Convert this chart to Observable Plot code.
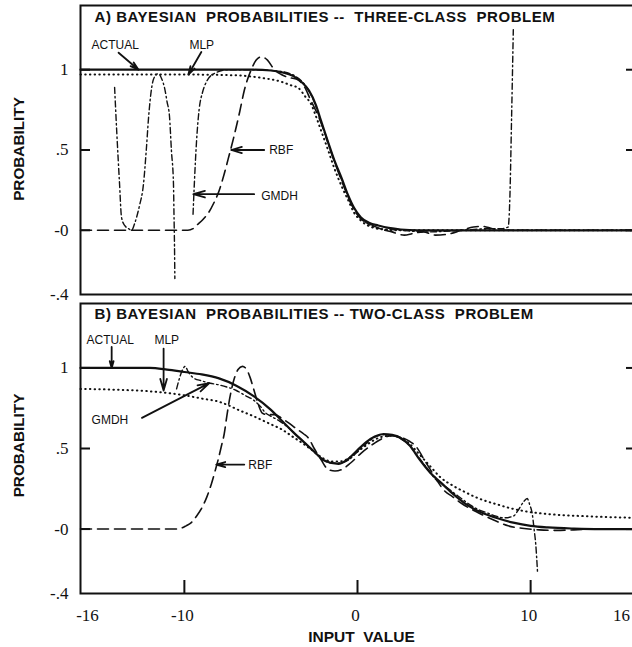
<!DOCTYPE html>
<html><head><meta charset="utf-8">
<script src="https://cdn.jsdelivr.net/npm/d3@7"></script>
<script src="https://cdn.jsdelivr.net/npm/@observablehq/plot@0.6"></script>
<style>body{margin:0;background:#fff;} #chart svg{display:block;} #chart svg + svg{margin-top:-4px;} #chart g[font-size="15"] text{letter-spacing:0.55px;}</style>
</head><body><div id="chart"></div>
<script>
// ---- Axis ticks ----
const yTickValues = [1, 0.5, 0, -0.4];
const yTickLabels = ["1", ".5", "-0", "-.4"];
const yInnerTicks = [1, 0.5, 0];
const xTickValues = [-16, -10, 0, 10, 16];
const xTickLabels = ["-16", "-10", "0", "10", "16"];
const xInnerTicks = [-10, 0, 10];

const titleA = "A) BAYESIAN  PROBABILITIES --  THREE-CLASS  PROBLEM";
const titleB = "B) BAYESIAN  PROBABILITIES -- TWO-CLASS  PROBLEM";

// ---- Panel A: three-class problem ----
const aActual = [[-16,1],[-8,1],[-6,1],[-5,0.995],[-4.4,0.985],[-3.7,0.96],[-3.2,0.92],[-2.8,0.87],[-2.4,0.78],[-2.1,0.68],[-1.7,0.55],[-1.35,0.44],[-0.9,0.32],[-0.55,0.22],[-0.2,0.14],[0.2,0.08],[0.7,0.045],[1.2,0.03],[1.8,0.015],[2.5,0.005],[3.5,0],[16,0]];
const aMLP = [[-16,0.97],[-10,0.97],[-7,0.965],[-5.6,0.95],[-4.4,0.925],[-3.9,0.905],[-3.4,0.885],[-3,0.83],[-2.7,0.79],[-2.4,0.71],[-2.1,0.62],[-1.7,0.5],[-1.35,0.39],[-0.9,0.27],[-0.55,0.19],[-0.2,0.11],[0.2,0.06],[0.8,0.02],[1.5,0.005],[2.5,0],[16,0]];
const aRBF = [[-16,0],[-9.8,0],[-9.5,0.01],[-9.3,0.03],[-8.9,0.07],[-8.6,0.11],[-8.3,0.17],[-8.05,0.23],[-7.7,0.35],[-7.48,0.44],[-7.1,0.6],[-6.8,0.74],[-6.53,0.875],[-6.14,1.0],[-5.85,1.06],[-5.56,1.08],[-5.2,1.06],[-4.8,1.0],[-4.4,0.97],[-3.9,0.95],[-3.5,0.94],[-3.1,0.9],[-2.7,0.81],[-2.3,0.72],[-1.9,0.61],[-1.5,0.48],[-1.1,0.36],[-0.7,0.25],[-0.3,0.15],[0.2,0.07],[0.7,0.04],[1.3,0.01],[2,-0.01],[2.7,-0.03],[3.2,-0.02],[3.8,-0.01],[4.5,-0.03],[5.2,-0.025],[6,0],[6.7,0.02],[7.2,0.025],[7.8,0.01],[8.5,0],[16,0]];
const aGMDH = [[-14.03,0.89],[-13.9,0.6],[-13.75,0.3],[-13.63,0.08],[-13.45,0.03],[-13.22,0.01],[-13.05,0.0],[-12.85,0.05],[-12.6,0.15],[-12.36,0.29],[-12.2,0.5],[-12.07,0.7],[-11.9,0.88],[-11.75,0.95],[-11.5,0.975],[-11.3,0.94],[-11.15,0.89],[-11.0,0.8],[-10.86,0.71],[-10.75,0.5],[-10.63,0.29],[-10.6,0.1],[-10.57,-0.1],[-10.55,-0.3],
  [NaN,NaN],
  [-9.5,0.1],[-9.42,0.3],[-9.3,0.55],[-9.15,0.75],[-8.95,0.86],[-8.7,0.93],[-8.3,0.975],[-7.5,1.0],[-6,1.0],[-4.5,0.99],[-3.6,0.96],[-3,0.9],[-2.5,0.8],[-2.1,0.67],[-1.7,0.54],[-1.3,0.42],[-0.9,0.31],[-0.5,0.2],[0,0.1],[0.6,0.04],[1.3,0.01],[2.5,0],[4,-0.01],[6,0],[7.5,0.01],[8.3,0.01],[8.7,0.02],[8.8,0.2],[8.9,0.7],[9.0,1.25]];
const aNotes = [
  {label:"ACTUAL", x:-15.36, y:1.15},
  {label:"MLP", x:-9.71, y:1.15},
  {label:"RBF", x:-5.1, y:0.5},
  {label:"GMDH", x:-5.56, y:0.21}
];
const aArrows = [
  {x1:-13.8, y1:1.106, x2:-12.65, y2:1.0},
  {x1:-9.02, y1:1.11, x2:-9.77, y2:0.97},
  {x1:-5.39, y1:0.5, x2:-7.29, y2:0.5},
  {x1:-5.97, y1:0.225, x2:-9.48, y2:0.225}
];

// ---- Panel B: two-class problem ----
const bActual = [[-16,1],[-12,1],[-11,0.99],[-10,0.975],[-9,0.96],[-8,0.935],[-7,0.89],[-6,0.825],[-5,0.74],[-4.4,0.675],[-3.7,0.6],[-3,0.53],[-2.5,0.48],[-2,0.43],[-1.5,0.41],[-1.1,0.405],[-0.6,0.43],[0,0.49],[0.5,0.54],[1,0.575],[1.5,0.59],[2,0.585],[2.5,0.565],[3,0.52],[3.6,0.43],[4.2,0.35],[4.8,0.29],[5.5,0.22],[6.2,0.16],[7,0.11],[8,0.07],[9,0.04],[10,0.02],[11,0.01],[12.5,0.003],[14,0],[16,0]];
const bMLP = [[-16,0.87],[-14,0.865],[-12,0.855],[-11,0.845],[-10,0.83],[-9,0.81],[-8,0.79],[-7.5,0.77],[-7,0.745],[-6,0.7],[-5,0.65],[-4.4,0.62],[-3.7,0.57],[-3,0.52],[-2.5,0.48],[-2,0.44],[-1.5,0.42],[-1,0.42],[-0.5,0.44],[0,0.48],[0.5,0.52],[1,0.555],[1.5,0.575],[2,0.58],[2.5,0.565],[3,0.53],[3.6,0.46],[4.2,0.39],[4.8,0.32],[5.5,0.27],[6.2,0.23],[7,0.19],[8,0.155],[9,0.125],[10,0.105],[11,0.093],[12.5,0.083],[14,0.076],[16,0.07]];
const bRBF = [[-16,0],[-10.6,0],[-10.2,0.005],[-9.9,0.02],[-9.6,0.04],[-9.3,0.08],[-9.0,0.13],[-8.7,0.2],[-8.44,0.28],[-8.2,0.37],[-8.05,0.43],[-7.85,0.52],[-7.7,0.59],[-7.55,0.7],[-7.4,0.8],[-7.25,0.88],[-7.1,0.94],[-6.9,0.99],[-6.65,1.01],[-6.4,0.99],[-6.2,0.94],[-6.0,0.87],[-5.75,0.78],[-5.5,0.72],[-5.2,0.71],[-4.8,0.71],[-4.4,0.69],[-4,0.66],[-3.5,0.62],[-3.1,0.59],[-2.8,0.56],[-2.5,0.5],[-2.1,0.43],[-1.7,0.37],[-1.3,0.36],[-0.9,0.37],[-0.4,0.41],[0.2,0.47],[0.8,0.52],[1.4,0.56],[2,0.58],[2.5,0.57],[3,0.545],[3.4,0.51],[3.8,0.44],[4.2,0.37],[4.6,0.3],[5,0.24],[5.5,0.2],[6,0.16],[7,0.1],[8,0.05],[8.7,0.02],[9.5,0.005],[10.5,-0.005],[11.5,-0.008],[12.5,-0.005],[14,0],[16,0]];
const bGMDH = [[-10.45,0.87],[-10.3,0.93],[-10.1,0.99],[-9.95,1.01],[-9.8,0.98],[-9.5,0.94],[-9,0.92],[-8.5,0.905],[-8,0.895],[-7.5,0.88],[-7,0.86],[-6.5,0.83],[-6,0.8],[-5.6,0.76],[-5.3,0.72],[-5,0.7],[-4.5,0.67],[-4,0.63],[-3.5,0.58],[-3,0.53],[-2.5,0.48],[-2,0.43],[-1.5,0.41],[-1,0.41],[-0.5,0.43],[0,0.48],[0.5,0.53],[1,0.57],[1.5,0.585],[2,0.58],[2.5,0.56],[3,0.52],[3.5,0.45],[4,0.38],[4.5,0.31],[5,0.27],[5.5,0.23],[6,0.19],[6.5,0.15],[7,0.12],[7.5,0.1],[8,0.08],[8.5,0.07],[9,0.08],[9.3,0.12],[9.6,0.17],[9.8,0.19],[9.95,0.15],[10.1,0.09],[10.2,0.0],[10.3,-0.1],[10.4,-0.27]];
const bNotes = [
  {label:"ACTUAL", x:-15.65, y:1.175},
  {label:"MLP", x:-11.73, y:1.175},
  {label:"GMDH", x:-15.36, y:0.675},
  {label:"RBF", x:-6.31, y:0.394}
];
const bArrows = [
  {x1:-14.2, y1:1.13, x2:-14.2, y2:1.0},
  {x1:-11.2, y1:1.12, x2:-11.2, y2:0.86},
  {x1:-12.45, y1:0.69, x2:-8.56, y2:0.906},
  {x1:-6.54, y1:0.4, x2:-8.16, y2:0.4}
];

const ink = "#111";
const sans = "'Liberation Sans', Arial, Helvetica, sans-serif";
const serif = "'Liberation Serif', 'Times New Roman', serif";
const curve = "monotone-x";
const X = d => d[0], Y = d => d[1];

function panel({title, actual, mlp, rbf, gmdh, notes, arrows, height, marginTop, marginBottom, bottomAxis, labelDy, titleDy, background}) {
  const innerW = 554;
  const innerH = height - marginTop - marginBottom;
  const marks = [
    Plot.line(actual, {x: X, y: Y, stroke: ink, strokeWidth: 2.2, curve}),
    Plot.line(mlp, {x: X, y: Y, stroke: ink, strokeWidth: 2, strokeDasharray: "0.5,4.2", strokeLinecap: "round", curve}),
    Plot.line(rbf, {x: X, y: Y, stroke: ink, strokeWidth: 1.6, strokeDasharray: "11,6", curve}),
    Plot.line(gmdh, {x: X, y: Y, stroke: ink, strokeWidth: 1.4, strokeDasharray: "6,3,1.5,3", curve}),
    Plot.frame({stroke: ink, strokeWidth: 2}),
    Plot.tickY(yInnerTicks, {y: d => d, stroke: ink, strokeWidth: 2, insetRight: innerW - 10}),
    Plot.tickY(yInnerTicks, {y: d => d, stroke: ink, strokeWidth: 2, insetLeft: innerW - 8}),
    Plot.axisY(yTickValues, {tickSize: 0, tickPadding: 12, label: null, tickFormat: d => yTickLabels[yTickValues.indexOf(d)], fontSize: 17, fontFamily: serif, fill: ink}),
    Plot.text([title], {frameAnchor: "top-left", lineAnchor: "top", textAnchor: "start", dx: 14, dy: titleDy, fontWeight: "bold", fontSize: 15, fontFamily: sans, fill: ink}),
    Plot.text(["PROBABILITY"], {frameAnchor: "left", textAnchor: "middle", rotate: -90, dx: -61, dy: labelDy, fontWeight: "bold", fontSize: 15.3, fontFamily: sans, fill: ink}),
    Plot.text(notes, {x: "x", y: "y", text: "label", textAnchor: "start", fontSize: 12, fontFamily: sans, fill: ink}),
    Plot.arrow(arrows, {x1: "x1", y1: "y1", x2: "x2", y2: "y2", stroke: ink, strokeWidth: 1.8, headLength: 10, headAngle: 32})
  ];
  if (bottomAxis) {
    const mid = xTickValues.filter(v => v > -16 && v < 16);
    marks.push(
      Plot.tickX(xInnerTicks, {x: d => d, stroke: ink, strokeWidth: 2, insetTop: innerH - 13}),
      Plot.text(mid, {x: d => d, text: d => xTickLabels[xTickValues.indexOf(d)], frameAnchor: "bottom", lineAnchor: "top", dy: 15, dx: -2, fontSize: 17, fontFamily: serif, fill: ink}),
      Plot.text([xTickValues[0]], {x: d => d, text: d => xTickLabels[0], frameAnchor: "bottom", lineAnchor: "top", dy: 15, dx: 7, fontSize: 17, fontFamily: serif, fill: ink}),
      Plot.text([xTickValues[4]], {x: d => d, text: d => xTickLabels[4], frameAnchor: "bottom", lineAnchor: "top", dy: 15, dx: -13, fontSize: 17, fontFamily: serif, fill: ink}),
      Plot.text(["INPUT  VALUE"], {frameAnchor: "bottom", textAnchor: "middle", lineAnchor: "top", dy: 37, dx: 4, fontWeight: "bold", fontSize: 15.5, fontFamily: sans, fill: ink})
    );
  }
  return Plot.plot({
    width: 632, height, marginTop, marginBottom, marginLeft: 80, marginRight: -2,
    x: {domain: [-16, 16], axis: null},
    y: {domain: [-0.4, 1.4]},
    clip: false,
    style: {background, fontFamily: sans, color: ink, overflow: "hidden"},
    marks
  });
}

const chart = document.getElementById("chart");
chart.append(panel({title: titleA, actual: aActual, mlp: aMLP, rbf: aRBF, gmdh: aGMDH, notes: aNotes, arrows: aArrows, height: 306, marginTop: 5, marginBottom: 12, bottomAxis: false, labelDy: -1, titleDy: 5.5, background: "white"}));
chart.append(panel({title: titleB, actual: bActual, mlp: bMLP, rbf: bRBF, gmdh: bGMDH, notes: bNotes, arrows: bArrows, height: 345, marginTop: 1, marginBottom: 54, bottomAxis: true, labelDy: -3, titleDy: 4.5, background: "transparent"}));
</script>
</body></html>
